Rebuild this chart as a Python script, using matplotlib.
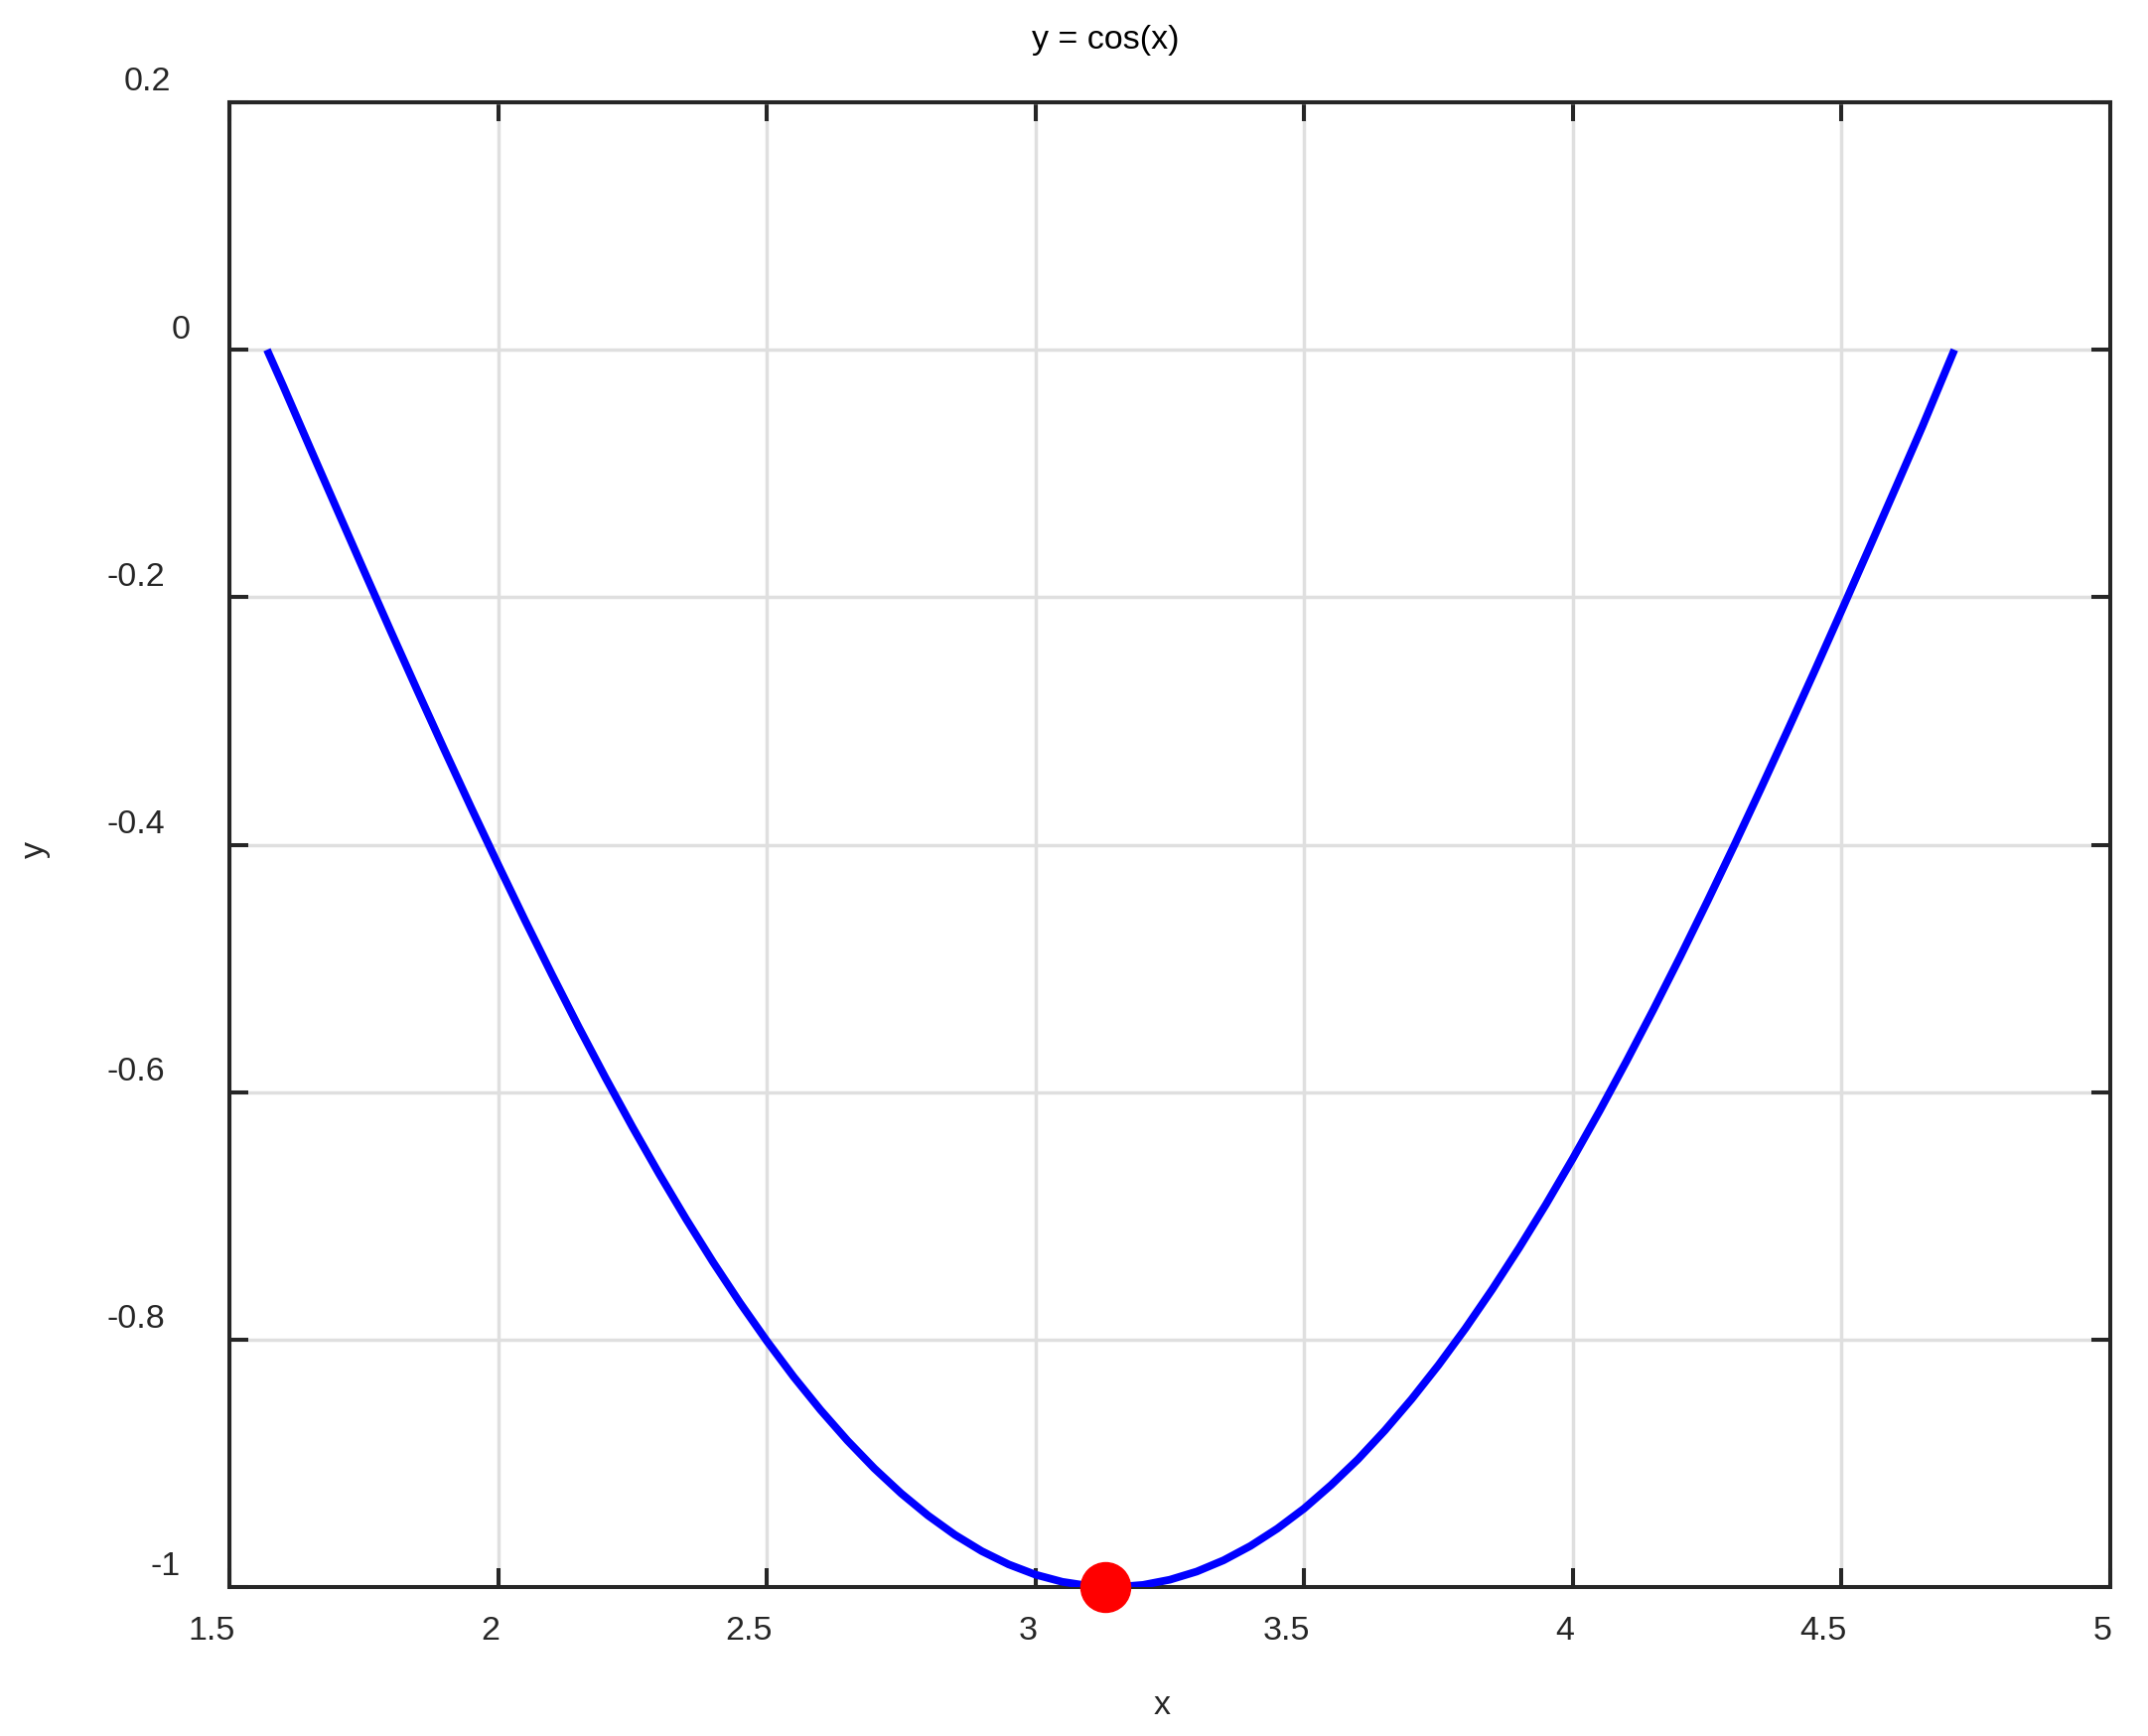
import matplotlib
matplotlib.use("Agg")
import matplotlib.pyplot as plt
from matplotlib.transforms import blended_transform_factory, ScaledTranslation

plt.rcParams['font.family'] = ['Liberation Sans', 'DejaVu Sans']

# curve points
x_vals = [1.57, 1.60, 1.65, 1.70, 1.75, 1.80, 1.85, 1.90, 1.95, 2.00, 2.05, 2.10,
          2.15, 2.20, 2.25, 2.30, 2.35, 2.40, 2.45, 2.50, 2.55, 2.60, 2.65, 2.70,
          2.75, 2.80, 2.85, 2.90, 2.95, 3.00, 3.05, 3.10, 3.15, 3.20, 3.25, 3.30,
          3.35, 3.40, 3.45, 3.50, 3.55, 3.60, 3.65, 3.70, 3.75, 3.80, 3.85, 3.90,
          3.95, 4.00, 4.05, 4.10, 4.15, 4.20, 4.25, 4.30, 4.35, 4.40, 4.45, 4.50,
          4.55, 4.60, 4.65, 4.71]
y_vals = [0.0000, -0.0292, -0.0792, -0.1288, -0.1782, -0.2272, -0.2756, -0.3233,
          -0.3702, -0.4161, -0.4611, -0.5048, -0.5474, -0.5885, -0.6282, -0.6663,
          -0.7027, -0.7374, -0.7702, -0.8011, -0.8301, -0.8569, -0.8816, -0.9041,
          -0.9243, -0.9422, -0.9578, -0.9710, -0.9817, -0.9900, -0.9958, -0.9991,
          -1.0000, -0.9983, -0.9941, -0.9875, -0.9784, -0.9668, -0.9528, -0.9365,
          -0.9176, -0.8968, -0.8735, -0.8481, -0.8206, -0.7910, -0.7594, -0.7259,
          -0.6907, -0.6536, -0.6150, -0.5748, -0.5332, -0.4903, -0.4461, -0.4008,
          -0.3545, -0.3073, -0.2595, -0.2108, -0.1617, -0.1122, -0.0624, 0.0000]

# highlighted minimum
min_x = [3.13]
min_y = [-1.0]

x_ticks = [1.5, 2, 2.5, 3, 3.5, 4, 4.5, 5]
x_tick_labels = ['1.5', '2', '2.5', '3', '3.5', '4', '4.5', '5']
y_ticks = [0.2, 0, -0.2, -0.4, -0.6, -0.8, -1]
y_tick_labels = ['0.2', '0', '-0.2', '-0.4', '-0.6', '-0.8', '-1']

# label offsets in pixels (the original renderer shifts them oddly)
y_label_dx = [-83, -49, -94, -94, -94, -94, -64]
x_label_dx = [-18, -8, -18, -8, -18, -8, -18, -8]

W, H = 2163, 1749
fig = plt.figure(figsize=(W / 100, H / 100), dpi=100)
ax = fig.add_axes([231 / W, 1 - 1599 / H, (2125 - 231) / W, (1599 - 104) / H])

dark = '#262626'
fs = 24.5

ax.plot(x_vals, y_vals, color='#0000ff', lw=5.6, solid_capstyle='butt',
        solid_joinstyle='round', zorder=3)
ax.plot(min_x, min_y, 'o', color='#ff0000', ms=36, clip_on=False, zorder=4)

ax.set_xlim(1.5, 5)
ax.set_ylim(-1, 0.2)
ax.set_xticks(x_ticks)
ax.set_yticks(y_ticks)
ax.set_xticklabels([])
ax.set_yticklabels([])
ax.tick_params(direction='in', length=14, width=2.9, color=dark,
               top=True, right=True, pad=0)
ax.grid(True, color='#dfdfdf', lw=2.5, zorder=0)
ax.set_axisbelow(True)
for s in ax.spines.values():
    s.set_linewidth(2.9)
    s.set_color(dark)

px = fig.dpi_scale_trans
ytrans = blended_transform_factory(ax.transAxes, ax.transData)
for val, lab, dx in zip(y_ticks, y_tick_labels, y_label_dx):
    ax.text(0, val, lab, transform=ytrans + ScaledTranslation(dx / 100, 21 / 100, px),
            ha='center', va='center', fontsize=fs, color=dark, clip_on=False)

xtrans = blended_transform_factory(ax.transData, ax.transAxes)
for val, lab, dx in zip(x_ticks, x_tick_labels, x_label_dx):
    ax.text(val, 0, lab, transform=xtrans + ScaledTranslation(dx / 100, -44 / 100, px),
            ha='center', va='center', fontsize=fs, color=dark, clip_on=False)

fig.text(1113 / W, 1 - 40 / H, 'y = cos(x)', ha='center', va='center',
         fontsize=fs, color='black')
fig.text(1170 / W, 1 - 1718 / H, 'x', ha='center', va='center', fontsize=fs, color=dark)
fig.text(35 / W, 1 - 856 / H, 'y', ha='center', va='center', rotation=90,
         fontsize=fs, color=dark)

fig.savefig('out.png', dpi=100)
